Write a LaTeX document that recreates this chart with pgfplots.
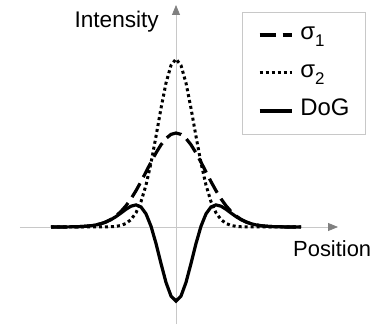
\documentclass[border=0pt]{standalone}
\usepackage{fontspec}
\setmainfont{Liberation Sans}
\usepackage{pgfplots}
\pgfplotsset{compat=1.18}
\usetikzlibrary{arrows.meta}
\definecolor{axgray}{RGB}{200,200,200}
\definecolor{tipgray}{RGB}{128,128,128}
\newcommand{\sub}[1]{\raisebox{-7bp}{\fontsize{17}{17}\selectfont #1}}
\begin{document}
\begin{tikzpicture}
\begin{axis}[
 x=10bp, y=100bp,
 xmin=-15.6, xmax=16.2, ymin=-0.97, ymax=2.22,
 axis lines=middle,
 axis line style={draw=axgray, line width=0.8bp, -{Triangle[length=10bp,width=8bp,color=tipgray]}},
 xtick=\empty, ytick=\empty,
 clip=false,
 legend style={at={(axis cs:18.9,2.15)}, anchor=north east, draw=axgray, line width=0.8bp,
   font=\fontsize{24}{28}\selectfont, legend cell align=left, row sep=16bp, column sep=7bp,
   inner xsep=15.5bp, inner ysep=12bp, outer sep=0pt,
   nodes={inner sep=0pt, text height=16bp, text depth=6bp}},
 legend image code/.code={\draw[#1] (0bp,0bp) -- (32bp,0bp);},
]
\addplot[black, line width=3.2bp, dash pattern=on 16bp off 7bp] coordinates {
(-12.5,0) (-11,0.0007) (-10,0.0025) (-9.5,0.0044) (-9,0.0076) (-8.5,0.0128) (-8,0.0209) (-7.5,0.0332) (-7,0.0510) (-6.5,0.0763) (-6,0.1106) (-5.5,0.1556) (-5,0.2126) (-4.5,0.2820) (-4,0.3631) (-3.5,0.4538) (-3,0.5505) (-2.5,0.6483) (-2,0.7410) (-1.5,0.8223) (-1,0.8857) (-0.5,0.9261) (0,0.9400)
(0.5,0.9261) (1,0.8857) (1.5,0.8223) (2,0.7410) (2.5,0.6483) (3,0.5505) (3.5,0.4538) (4,0.3631) (4.5,0.2820) (5,0.2126) (5.5,0.1556) (6,0.1106) (6.5,0.0763) (7,0.0510) (7.5,0.0332) (8,0.0209) (8.5,0.0128) (9,0.0076) (9.5,0.0044) (10,0.0025) (11,0.0007) (12.5,0)
};
\addlegendentry{σ\sub{1}}
\addplot[black, line width=3bp, dash pattern=on 3bp off 3bp] coordinates {
(-12.5,0) (-11,0) (-10,0) (-9.5,0) (-9,0) (-8.5,0) (-8,0.0001) (-7.5,0.0003) (-7,0.0009) (-6.5,0.0025) (-6,0.0065) (-5.5,0.0158) (-5,0.0355) (-4.5,0.0738) (-4,0.1422) (-3.5,0.2536) (-3,0.4189) (-2.5,0.6403) (-2,0.9062) (-1.5,1.1872) (-1,1.4398) (-0.5,1.6164) (0,1.6800)
(0.5,1.6164) (1,1.4398) (1.5,1.1872) (2,0.9062) (2.5,0.6403) (3,0.4189) (3.5,0.2536) (4,0.1422) (4.5,0.0738) (5,0.0355) (5.5,0.0158) (6,0.0065) (6.5,0.0025) (7,0.0009) (7.5,0.0003) (8,0.0001) (8.5,0) (9,0) (9.5,0) (10,0) (11,0) (12.5,0)
};
\addlegendentry{σ\sub{2}}
\addplot[black, line width=3.2bp] coordinates {
(-12.5,0) (-11,0.0007) (-10,0.0025) (-9.5,0.0044) (-9,0.0076) (-8.5,0.0128) (-8,0.0208) (-7.5,0.0329) (-7,0.0501) (-6.5,0.0738) (-6,0.1041) (-5.5,0.1398) (-5,0.1771) (-4.5,0.2082) (-4,0.2209) (-3.5,0.2002) (-3,0.1316) (-2.5,0.0080) (-2,-0.1652) (-1.5,-0.3649) (-1,-0.5541) (-0.5,-0.6903) (0,-0.7400)
(0.5,-0.6903) (1,-0.5541) (1.5,-0.3649) (2,-0.1652) (2.5,0.0080) (3,0.1316) (3.5,0.2002) (4,0.2209) (4.5,0.2082) (5,0.1771) (5.5,0.1398) (6,0.1041) (6.5,0.0738) (7,0.0501) (7.5,0.0329) (8,0.0208) (8.5,0.0128) (9,0.0076) (9.5,0.0044) (10,0.0025) (11,0.0007) (12.5,0)
};
\addlegendentry{DoG}
\node[anchor=base east, inner sep=0pt, font=\fontsize{22.7}{27}\selectfont] at (axis cs:-1.7,1.99) {Intensity};
\node[anchor=base west, inner sep=0pt, font=\fontsize{22}{26}\selectfont] at (axis cs:11.7,-0.30) {Position};
\coordinate (bl) at (axis cs:-17.6,-1.01);
\coordinate (tr) at (axis cs:19.9,2.27);
\end{axis}
\pgfresetboundingbox
\path[use as bounding box] (bl) rectangle (tr);
\end{tikzpicture}
\end{document}
